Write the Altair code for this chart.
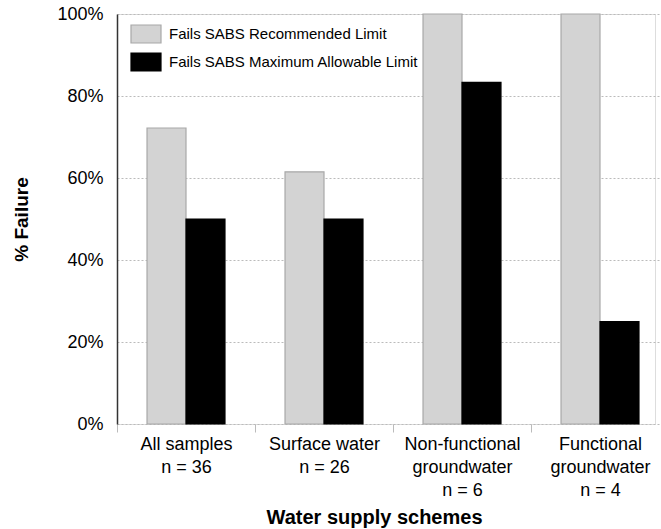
import altair as alt
import pandas as pd

categories = ["All samples|n = 36", "Surface water|n = 26",
              "Non-functional|groundwater|n = 6", "Functional|groundwater|n = 4"]
series = ["Fails SABS Recommended Limit", "Fails SABS Maximum Allowable Limit"]
recommended = [72.2, 61.5, 100.0, 100.0]
maximum = [50.0, 50.0, 83.3, 25.0]

rows = []
for c, r, m in zip(categories, recommended, maximum):
    rows.append({"cat": c, "series": series[0], "value": r / 100})
    rows.append({"cat": c, "series": series[1], "value": m / 100})
df = pd.DataFrame(rows)

FONT = "Liberation Sans"

rect_path = "M-1,-0.6L1,-0.6L1,0.6L-1,0.6Z"

legend_kw = dict(title=None, orient="none", legendX=13, legendY=4,
                 symbolType=rect_path, symbolSize=900, symbolStrokeWidth=1.2,
                 labelFontSize=15, labelFont=FONT, labelColor="#000",
                 labelOffset=7, rowPadding=0, labelLimit=0)

chart = alt.Chart(df).mark_bar(strokeWidth=1.2).encode(
    x=alt.X("cat:N", sort=categories,
            scale=alt.Scale(paddingInner=0, paddingOuter=0, range=[0, 552]),
            axis=alt.Axis(title="Water supply schemes", labelAngle=0,
                          labelExpr="split(datum.label, '|')",
                          labelFontSize=18, labelLineHeight=23,
                          labelColor="#000", labelFont=FONT,
                          labelPadding=3, tickBand="extent",
                          tickColor="#bbbbbb", tickSize=8,
                          domain=False,
                          titleFontSize=20, titleFont=FONT, titleFontWeight="bold",
                          titleX=257, titleY=99, titleBaseline="alphabetic",
                          titleColor="#000")),
    xOffset=alt.XOffset("series:N", sort=series,
                        scale=alt.Scale(paddingOuter=0.77, paddingInner=0)),
    y=alt.Y("value:Q", scale=alt.Scale(domain=[0, 1], nice=False),
            axis=alt.Axis(title="% Failure", format=".0%", values=[0, 0.2, 0.4, 0.6, 0.8, 1.0],
                          ticks=False, labelPadding=14, labelFontSize=18,
                          labelColor="#000", labelFont=FONT,
                          domainColor="#333", domainWidth=1.5,
                          grid=True, gridColor="#bbbbbb", gridDash=[2, 2], gridWidth=1,
                          titleFontSize=19, titleFont=FONT, titleFontWeight="bold",
                          titleColor="#000", titlePadding=25)),
    fill=alt.Fill("series:N", sort=series,
                  scale=alt.Scale(domain=series, range=["#d3d3d3", "#000000"]),
                  legend=alt.Legend(**legend_kw)),
    stroke=alt.Stroke("series:N", sort=series,
                      scale=alt.Scale(domain=series, range=["#a8a8a8", "#000000"]),
                      legend=alt.Legend(**legend_kw)),
).properties(
    width=538, height=410,
    autosize=alt.AutoSizeParams(type="none"),
    padding={"left": 117, "top": 14, "right": 6, "bottom": 105},
).configure_view(
    stroke="#333", strokeWidth=1.5
).configure(background="white")

chart.save("out.html", embed_options={"renderer": "svg", "actions": False})
